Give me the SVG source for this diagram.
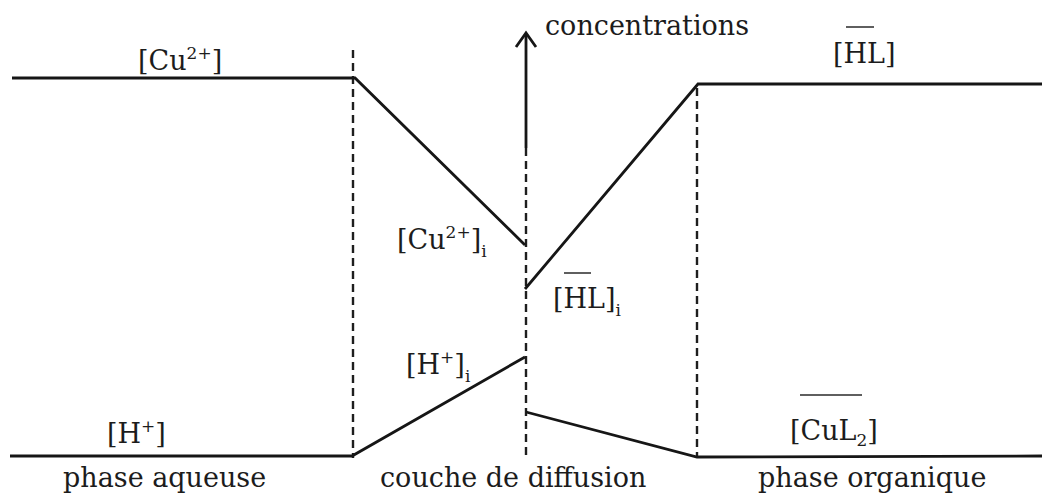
<svg xmlns="http://www.w3.org/2000/svg" width="1046" height="498" viewBox="0 0 1046 498">
<style>
 .ln{stroke:#161616;stroke-width:2.8;fill:none;stroke-linejoin:miter}
 .dash{stroke:#1e1e1e;stroke-width:2.4;stroke-dasharray:8 5;fill:none}
 .ov{stroke:#2a2a2a;stroke-width:1.5}
 .t{font-family:"DejaVu Serif","Liberation Serif",serif;font-size:27px;fill:#1c1c1c}
 .s{font-size:17px}
</style>
<rect width="1046" height="498" fill="#ffffff"/>
<g id="boundaries">
 <line class="dash" x1="353" y1="50" x2="353" y2="458"/>
 <line class="dash" x1="526" y1="148" x2="526" y2="460"/>
 <line class="dash" x1="697" y1="88" x2="697" y2="458"/>
</g>
<g id="axis">
 <line class="ln" x1="526" y1="34" x2="526" y2="148"/>
 <polyline class="ln" points="516,47 526,33 536,47"/>
 <text class="t" x="545" y="35">concentrations</text>
</g>
<g id="connectors">
 <polyline class="ln" points="12,78 355,78 525,245"/>
 <polyline class="ln" points="525,289 698,84 1042,84"/>
 <polyline class="ln" points="10,456 352,456 525,357"/>
 <polyline class="ln" points="526,412 697,457 1042,456"/>
</g>
<g id="label-cu">
 <text class="t" x="138" y="70">[Cu<tspan class="s" dy="-11">2+</tspan><tspan dy="11">]</tspan></text>
</g>
<g id="label-hl">
 <line class="ov" x1="846" y1="27" x2="874" y2="27"/>
 <text class="t" x="833" y="63">[HL]</text>
</g>
<g id="label-cu-i">
 <text class="t" x="397" y="249">[Cu<tspan class="s" dy="-11">2+</tspan><tspan dy="11">]</tspan><tspan class="s" dy="8">i</tspan></text>
</g>
<g id="label-hl-i">
 <line class="ov" x1="564" y1="273" x2="591" y2="273"/>
 <text class="t" x="553" y="308">[HL]<tspan class="s" dy="8">i</tspan></text>
</g>
<g id="label-h-i">
 <text class="t" x="406" y="374">[H<tspan class="s" dy="-11">+</tspan><tspan dy="11">]</tspan><tspan class="s" dy="8">i</tspan></text>
</g>
<g id="label-h">
 <text class="t" x="107" y="443">[H<tspan class="s" dy="-11">+</tspan><tspan dy="11">]</tspan></text>
</g>
<g id="label-cul2">
 <line class="ov" x1="800" y1="395" x2="862" y2="395"/>
 <text class="t" x="790" y="440">[CuL<tspan class="s" dy="6">2</tspan><tspan dy="-6">]</tspan></text>
</g>
<g id="phase-labels">
 <text class="t" x="63" y="487">phase aqueuse</text>
 <text class="t" x="380" y="487">couche de diffusion</text>
 <text class="t" x="758" y="487">phase organique</text>
</g>
</svg>
